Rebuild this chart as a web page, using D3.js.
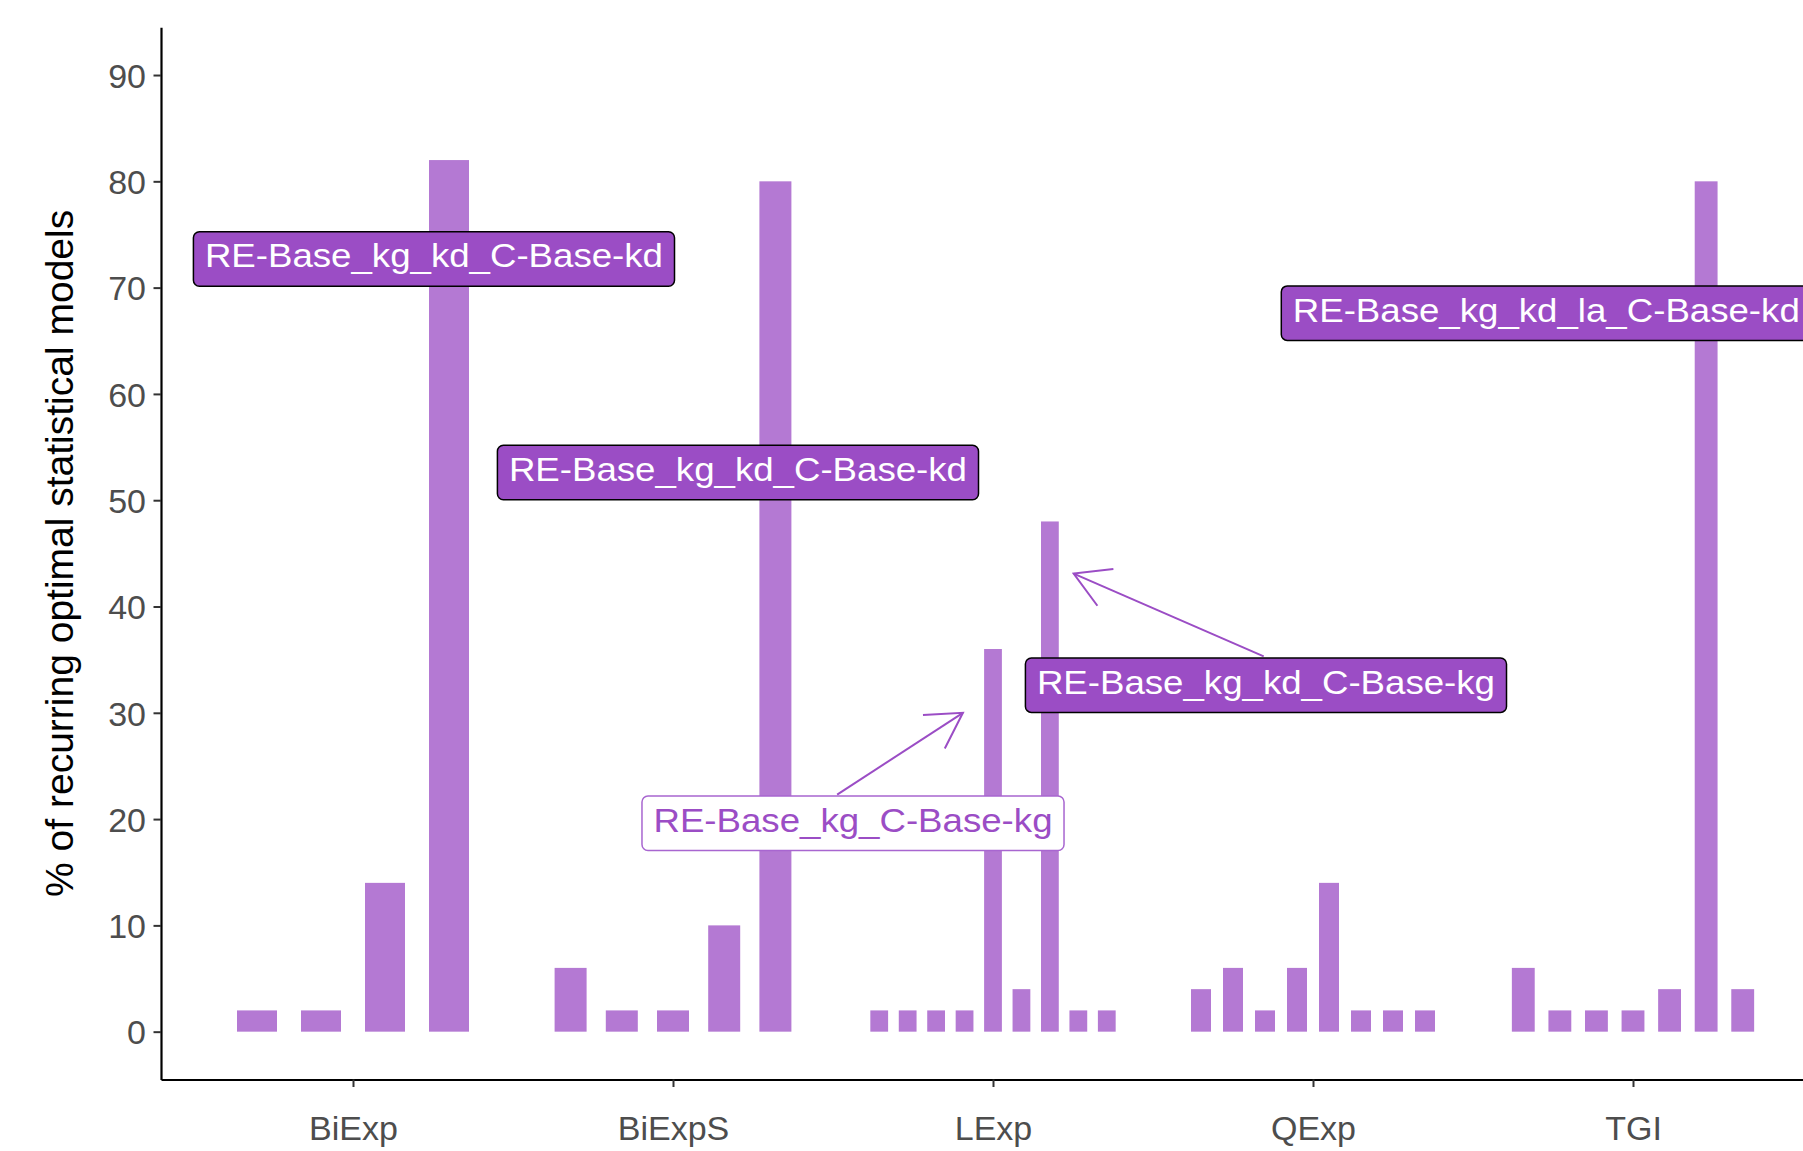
<!DOCTYPE html>
<html>
<head>
<meta charset="utf-8">
<script src="https://cdn.jsdelivr.net/npm/d3@7/dist/d3.min.js"></script>
<style>
  html, body { margin: 0; padding: 0; background: #ffffff; overflow: hidden; }
  svg { display: block; }
  text { font-family: "Liberation Sans", Arial, sans-serif; }
</style>
</head>
<body>
<svg id="chart" width="1803" height="1151"></svg>
<script>
// Model families on the x axis
const categories = ["BiExp", "BiExpS", "LExp", "QExp", "TGI"];

// % of runs in which each statistical model was optimal, one array per family
const valuesBiExp  = [2, 2, 14, 82];
const valuesBiExpS = [6, 2, 2, 10, 80];
const valuesLExp   = [2, 2, 2, 2, 36, 4, 48, 2, 2];
const valuesQExp   = [4, 6, 2, 6, 14, 2, 2, 2];
const valuesTGI    = [6, 2, 2, 2, 4, 80, 4];

const yTicks = [0, 10, 20, 30, 40, 50, 60, 70, 80, 90];

// Annotation labels, placed in data units (x = family index, y = percent)
const labelText  = ["RE-Base_kg_kd_C-Base-kd", "RE-Base_kg_kd_C-Base-kd", "RE-Base_kg_kd_C-Base-kg", "RE-Base_kg_C-Base-kg", "RE-Base_kg_kd_la_C-Base-kd"];
const labelX     = [0.253, 1.203, 2.853, 1.5625, 3.729];
const labelY     = [72.7, 52.6, 32.6, 19.6, 67.6];
const labelFilled = [true, true, true, false, true];

// Arrows from labels to the bars they point at (data units)
const arrowFromX = [1.513, 2.846];
const arrowFromY = [22.3, 35.3];
const arrowToX   = [1.906, 2.252];
const arrowToY   = [30.0, 43.1];

const groups = [valuesBiExp, valuesBiExpS, valuesLExp, valuesQExp, valuesTGI];

const barFill = "#B479D3";
const labelFill = "#9B4DC5";
const accent = "#9B4DC5";

const svg = d3.select("#chart");
const margin = { left: 161, top: 27.2, bottom: 1079.5 };
const plotRight = 1825;

const x = d3.scaleLinear().domain([-0.6, categories.length - 0.4]).range([margin.left, plotRight]);
const y = d3.scaleLinear().domain([-4.5, 94.5]).range([margin.bottom, margin.top]);

// Bars: dodge width 0.8, bar width 0.5 within each family
const dodgeWidth = 0.8, barWidth = 0.5;
const bars = [];
groups.forEach((vals, gi) => {
  const n = vals.length;
  vals.forEach((v, j) => {
    const c = gi - dodgeWidth / 2 + dodgeWidth * (j + 0.5) / n;
    bars.push({ c: c, w: barWidth / n, v: v });
  });
});

svg.append("g").selectAll("rect").data(bars).join("rect")
  .attr("x", d => x(d.c - d.w / 2))
  .attr("width", d => x(d.c + d.w / 2) - x(d.c - d.w / 2))
  .attr("y", d => y(d.v))
  .attr("height", d => y(0) - y(d.v))
  .attr("fill", barFill);

// Axes
const yAxis = d3.axisLeft(y).tickValues(yTicks).tickSize(7.5).tickSizeOuter(0).tickPadding(7.5);
const gy = svg.append("g").attr("transform", `translate(${margin.left},0)`).call(yAxis);
gy.select(".domain").attr("stroke", "#000").attr("stroke-width", 2.2);
gy.selectAll(".tick line").attr("stroke", "#333").attr("stroke-width", 2);
gy.selectAll(".tick text").attr("font-size", 34).attr("fill", "#4D4D4D")
  .attr("font-family", "Liberation Sans, Arial, sans-serif").attr("dy", "0.36em");

const xAxis = d3.axisBottom(x).tickValues(d3.range(categories.length))
  .tickFormat(i => categories[i]).tickSize(7.5).tickSizeOuter(0);
const gx = svg.append("g").attr("transform", `translate(0,${margin.bottom})`).call(xAxis);
gx.select(".domain").attr("stroke", "#000").attr("stroke-width", 2.2);
gx.selectAll(".tick line").attr("stroke", "#333").attr("stroke-width", 2);
gx.selectAll(".tick text").attr("font-size", 34).attr("fill", "#4D4D4D")
  .attr("font-family", "Liberation Sans, Arial, sans-serif").attr("y", 60.5).attr("dy", 0);

// Y axis title
svg.append("text")
  .attr("transform", `translate(73,${(margin.top + margin.bottom) / 2}) rotate(-90)`)
  .attr("text-anchor", "middle")
  .attr("font-size", 39)
  .attr("fill", "#000")
  .text("% of recurring optimal statistical models");

// Arrows with open heads
const arrowLen = 40, arrowAngle = Math.PI / 6;
const ga = svg.append("g").attr("stroke", accent).attr("stroke-width", 2).attr("fill", "none");
arrowFromX.forEach((_, i) => {
  const x1 = x(arrowFromX[i]), y1 = y(arrowFromY[i]);
  const x2 = x(arrowToX[i]), y2 = y(arrowToY[i]);
  const back = Math.atan2(y1 - y2, x1 - x2);
  ga.append("line").attr("x1", x1).attr("y1", y1).attr("x2", x2).attr("y2", y2);
  const p1 = [x2 + arrowLen * Math.cos(back + arrowAngle), y2 + arrowLen * Math.sin(back + arrowAngle)];
  const p2 = [x2 + arrowLen * Math.cos(back - arrowAngle), y2 + arrowLen * Math.sin(back - arrowAngle)];
  ga.append("polyline").attr("points", `${p1[0]},${p1[1]} ${x2},${y2} ${p2[0]},${p2[1]}`)
    .attr("stroke-linejoin", "miter");
});

// Labels
const labelFont = 33, labelStretch = 1.11, padX = 11.5, boxH = 54.5;
labelText.forEach((t, i) => {
  const g = svg.append("g");
  const cx = x(labelX[i]), cy = y(labelY[i]);
  const rect = g.append("rect");
  const txt = g.append("text")
    .attr("font-size", labelFont)
    .attr("fill", labelFilled[i] ? "#ffffff" : accent)
    .text(t);
  const natural = txt.node().getComputedTextLength();
  const w = natural * labelStretch;
  txt.attr("textLength", w).attr("lengthAdjust", "spacingAndGlyphs")
    .attr("x", cx - w / 2).attr("y", cy + 8.5);
  rect.attr("x", cx - w / 2 - padX).attr("y", cy - boxH / 2)
    .attr("width", w + 2 * padX).attr("height", boxH)
    .attr("rx", 6).attr("ry", 6)
    .attr("fill", labelFilled[i] ? labelFill : "#ffffff")
    .attr("stroke", labelFilled[i] ? "#000000" : "#A866D0")
    .attr("stroke-width", 1.5);
});
</script>
</body>
</html>
